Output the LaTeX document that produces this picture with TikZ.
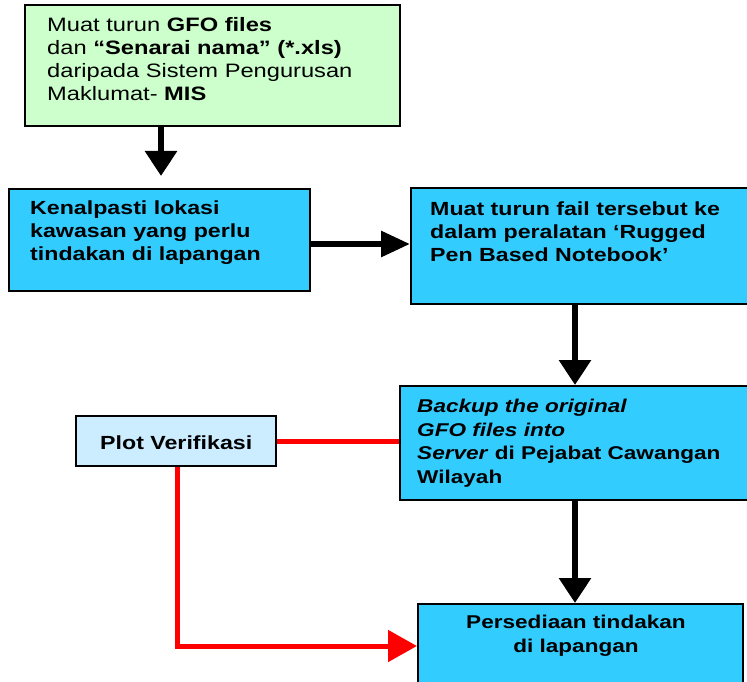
\documentclass[tikz,border=0pt]{standalone}
\usepackage{fontspec}
\setmainfont{Liberation Sans}[FakeStretch=1.22]
\usetikzlibrary{arrows.meta}
\definecolor{palegreen}{HTML}{CCFFCC}
\definecolor{skyblue}{HTML}{33CCFF}
\definecolor{paleblue}{HTML}{CCECFF}
\begin{document}
\begin{tikzpicture}[x=1pt,y=-1pt,
  box/.style={draw=black, line width=2.4pt, inner sep=0pt, anchor=north west},
  txt/.style={inner sep=0pt, anchor=north west, align=left},
  vflow/.style={line width=6pt, -{Triangle[length=25pt,width=31pt]}},
  hflow/.style={line width=6pt, -{Triangle[length=29pt,width=25pt]}},
  redline/.style={draw=red, line width=5pt},
  redflow/.style={draw=red, line width=5pt, -{Triangle[length=29pt,width=31pt]}},
]
\useasboundingbox (0,0) rectangle (747,682);
\clip (0,0) rectangle (747,682);

% boxes
\node[box, fill=palegreen, minimum width=375pt, minimum height=121pt] (mis) at (24,4) {};
\node[box, fill=skyblue, minimum width=301pt, minimum height=102pt] (lokasi) at (8,188) {};
\node[box, fill=skyblue, minimum width=345pt, minimum height=116pt] (muat) at (410,187) {};
\node[box, fill=skyblue, minimum width=356pt, minimum height=114pt] (backup) at (399,385) {};
\node[box, fill=paleblue, minimum width=200pt, minimum height=50pt] (plot) at (75,415) {};
\node[box, fill=skyblue, minimum width=325pt, minimum height=100pt] (sedia) at (417,603) {};

% texts
\node[txt, font=\fontsize{19.4}{23}\selectfont] at (47,17)
  {Muat turun \textbf{GFO files}\\
   dan \textbf{``Senarai nama'' (*.xls)}\\
   daripada Sistem Pengurusan\\
   Maklumat- \textbf{MIS}};
\node[txt, font=\fontsize{19}{23}\selectfont\bfseries] at (30,201)
  {Kenalpasti lokasi\\
   kawasan yang perlu\\
   tindakan di lapangan};
\node[txt, font=\fontsize{19}{23}\selectfont\bfseries] at (430,202)
  {Muat turun fail tersebut ke\\
   dalam peralatan `Rugged\\
   Pen Based Notebook'};
\node[txt, font=\fontsize{18.5}{23.5}\selectfont\bfseries] at (417,399)
  {\textit{Backup the original}\\
   \textit{GFO files into}\\
   \textit{Server} di Pejabat Cawangan\\
   Wilayah};
\node[inner sep=0pt, font=\fontsize{19}{22}\selectfont\bfseries] at ([yshift=-2pt]plot.center) {Plot Verifikasi};
\node[inner sep=0pt, anchor=north, align=center, font=\fontsize{18.5}{24}\selectfont\bfseries]
  at (576,615) {Persediaan tindakan\\di lapangan};

% flow connectors
\coordinate (lokasiTop) at (161,176);
\draw[vflow] (mis.south -| lokasiTop) -- (lokasiTop);
\draw[hflow] (lokasi.east |- 0,244) -- (muat.west |- 0,244);
\draw[vflow] (muat.south -| 575,0) -- (backup.north -| 575,0);
\draw[vflow] (backup.south -| 575,0) -- (sedia.north -| 575,0);

% verification links
\draw[redline] (plot.east |- 0,441) -- (backup.west |- 0,441);
\draw[redflow] (plot.south -| 177,0) -- (177,646) -- (sedia.west |- 0,646);
\end{tikzpicture}
\end{document}
